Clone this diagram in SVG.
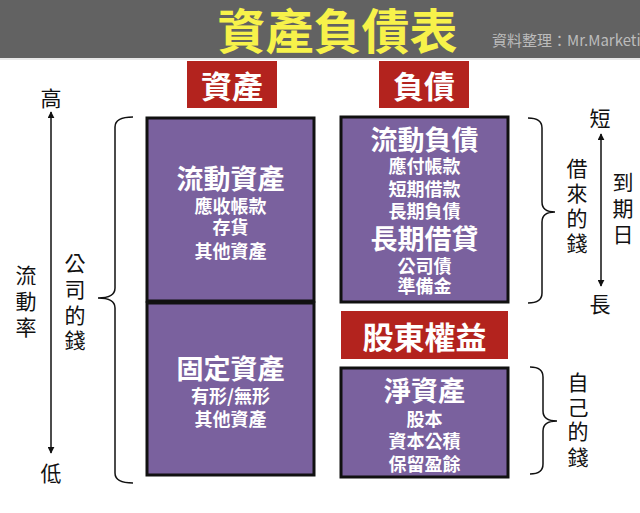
<svg xmlns="http://www.w3.org/2000/svg" width="640" height="513" viewBox="0 0 640 513">
<style>
.cjk{font-family:"Noto Sans CJK TC","Noto Sans CJK SC",sans-serif;text-anchor:middle;dominant-baseline:central}
.box{fill:#7a619e;stroke:#111;stroke-width:3}
.red{fill:#b3231e}
.big{font-size:27px;font-weight:700;fill:#fff}
.sm{font-size:18px;font-weight:700;fill:#fff}
.hd{font-size:31px;font-weight:700;fill:#fff}
.lb{font-size:21px;font-weight:400;fill:#111}
.conn{fill:none;stroke:#111;stroke-width:1.5}
</style>
<defs>
<marker id="ah" viewBox="0 0 10 10" refX="9" refY="5" markerWidth="7" markerHeight="7" orient="auto-start-reverse" markerUnits="userSpaceOnUse">
<path d="M0,0 L10,5 L0,10 z" fill="#111"/>
</marker>
</defs>
<rect width="640" height="513" fill="#fff"/>
<g id="header">
<rect x="0" y="0" width="640" height="58" fill="#626262"/>
<rect x="0" y="58" width="640" height="2" fill="#e8e8e8"/>
<text class="cjk" x="337.5" y="27.5" style="font-size:48px;font-weight:700;fill:#f7f24a">資產負債表</text>
<text x="492" y="39" style="font-family:'Noto Sans CJK TC','Noto Sans CJK SC',sans-serif;font-size:15px;fill:#bcbcbc;dominant-baseline:central">資料整理：Mr.Marketi</text>
</g>
<g id="assets-head">
<rect class="red" x="187" y="61" width="90" height="47"/>
<text class="cjk hd" x="232" y="84">資產</text>
</g>
<g id="liab-head">
<rect class="red" x="379" y="61" width="90" height="47"/>
<text class="cjk hd" x="424" y="84">負債</text>
</g>
<g id="equity-head">
<rect class="red" x="341" y="311" width="167" height="48"/>
<text class="cjk hd" x="424.5" y="335">股東權益</text>
</g>
<g id="current-assets">
<rect class="box" x="147" y="118" width="167" height="183"/>
<text class="cjk big" x="230.5" y="177.5">流動資產</text>
<text class="cjk sm" x="230.5" y="205">應收帳款</text>
<text class="cjk sm" x="230.5" y="226">存貨</text>
<text class="cjk sm" x="230.5" y="249.5">其他資產</text>
</g>
<g id="fixed-assets">
<rect class="box" x="147" y="303" width="167" height="172"/>
<text class="cjk big" x="230.5" y="367.5">固定資產</text>
<text class="cjk sm" x="230.5" y="394.5">有形/無形</text>
<text class="cjk sm" x="230.5" y="417.5">其他資產</text>
</g>
<g id="liabilities">
<rect class="box" x="341" y="117" width="167" height="185"/>
<text class="cjk big" x="424.5" y="138.5">流動負債</text>
<text class="cjk sm" x="424.5" y="165">應付帳款</text>
<text class="cjk sm" x="424.5" y="187.5">短期借款</text>
<text class="cjk sm" x="424.5" y="209.5">長期負債</text>
<text class="cjk big" x="424.5" y="237.5">長期借貸</text>
<text class="cjk sm" x="424.5" y="264.5">公司債</text>
<text class="cjk sm" x="424.5" y="285">準備金</text>
</g>
<g id="net-assets">
<rect class="box" x="341" y="368" width="167" height="109"/>
<text class="cjk big" x="424.5" y="389">淨資產</text>
<text class="cjk sm" x="424.5" y="417.5">股本</text>
<text class="cjk sm" x="424.5" y="439.5">資本公積</text>
<text class="cjk sm" x="424.5" y="462.5">保留盈餘</text>
</g>
<g id="liquidity-label">
<text class="cjk lb" x="51" y="96.5">高</text>
<text class="cjk lb" x="51" y="472">低</text>
<text class="cjk lb" x="26" y="274">流</text>
<text class="cjk lb" x="26" y="300">動</text>
<text class="cjk lb" x="26" y="326">率</text>
</g>
<g id="company-money-label">
<text class="cjk lb" x="75" y="262">公</text>
<text class="cjk lb" x="75" y="288">司</text>
<text class="cjk lb" x="75" y="314">的</text>
<text class="cjk lb" x="75" y="339">錢</text>
</g>
<g id="borrowed-label">
<text class="cjk lb" x="577" y="167">借</text>
<text class="cjk lb" x="577" y="192">來</text>
<text class="cjk lb" x="577" y="217">的</text>
<text class="cjk lb" x="577" y="242">錢</text>
</g>
<g id="maturity-label">
<text class="cjk lb" x="600" y="116.5">短</text>
<text class="cjk lb" x="600" y="302.5">長</text>
<text class="cjk lb" x="623" y="181">到</text>
<text class="cjk lb" x="623" y="207">期</text>
<text class="cjk lb" x="623" y="233">日</text>
</g>
<g id="own-money-label">
<text class="cjk lb" x="578" y="381">自</text>
<text class="cjk lb" x="578" y="405.5">己</text>
<text class="cjk lb" x="578" y="430">的</text>
<text class="cjk lb" x="578" y="456">錢</text>
</g>
<g id="connectors">
<line class="conn" x1="51" y1="112" x2="51" y2="453" marker-start="url(#ah)" marker-end="url(#ah)"/>
<line class="conn" x1="601" y1="134" x2="601" y2="286" marker-start="url(#ah)" marker-end="url(#ah)"/>
<path class="conn" d="M133,117 Q115,117 115,127 L115,288 Q115,298 98,298 Q115,298 115,308 L115,473 Q115,483 133,483"/>
<path class="conn" d="M528,118 Q542,118 542,128 L542,202 Q542,212 555,212 Q542,212 542,222 L542,293 Q542,303 528,303"/>
<path class="conn" d="M530,367 Q543,367 543,377 L543,411 Q543,421 557,421 Q543,421 543,431 L543,464 Q543,474 530,474"/>
</g>
</svg>
